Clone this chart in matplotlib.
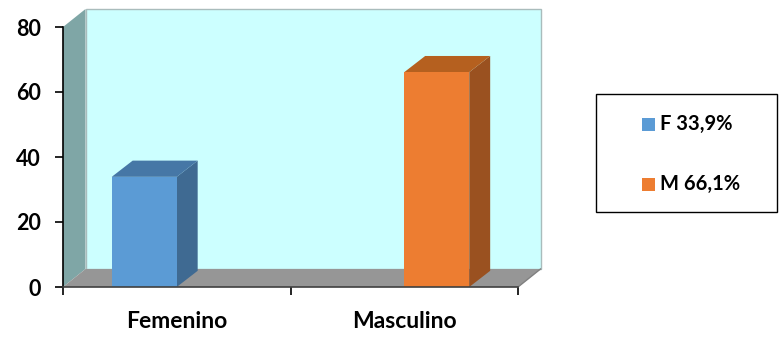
import matplotlib
matplotlib.use("Agg")
import matplotlib.pyplot as plt
from matplotlib.patches import Polygon, Rectangle

# Data
categories = ["Femenino", "Masculino"]
series_names = ["F", "M"]
series_values = [33.9, 66.1]          # percentage per sex
legend_labels = ["F 33,9%", "M 66,1%"]
y_ticks = [0, 20, 40, 60, 80]

front_colors = ["#5b9bd5", "#ed7d31"]
top_colors = ["#4677a6", "#b5601f"]
side_colors = ["#3f6a92", "#9a5120"]

plt.rcParams["font.family"] = ["Lato", "DejaVu Sans"]
plt.rcParams["font.weight"] = "bold"

W, H = 779, 338
fig = plt.figure(figsize=(W / 100, H / 100), dpi=100)
ax = fig.add_axes([63 / W, (H - 287) / H, 455 / W, 260 / H])
ymax = 80
ax.set_xlim(0, len(categories))
ax.set_ylim(0, ymax)

# oblique depth in data units
px_x = len(categories) / 455
px_y = ymax / 260
ddx, ddy = 22.5 * px_x, 18 * px_y
xmax = len(categories)


def poly(pts, fc, ec="none", lw=0.0, z=1):
    ax.add_patch(Polygon(pts, closed=True, facecolor=fc, edgecolor=ec,
                         linewidth=lw, clip_on=False, zorder=z))


# walls and floor
poly([(ddx, ddy), (xmax + ddx, ddy), (xmax + ddx, ymax + ddy), (ddx, ymax + ddy)],
     "#ccffff", ec="#a9bcbc", lw=1.0, z=1)
poly([(0, 0), (ddx, ddy), (ddx, ymax + ddy), (0, ymax)], "#7fa6a6", z=2)
poly([(0, 0), (xmax, 0), (xmax + ddx, ddy), (ddx, ddy)], "#969696", z=2)
ax.plot([xmax, xmax + ddx], [0, ddy], color="#808080", lw=1.0, zorder=3, clip_on=False)

# bars: one slot per series inside each category
bw = 65 / 227.5
bdx, bdy = ddx * 0.93, ddy * 0.9
n = len(series_values)
for i, v in enumerate(series_values):
    x0 = i + 0.5 + (i - (n - 1) / 2) * bw - bw / 2
    x1 = x0 + bw
    poly([(x1, 0), (x1 + bdx, bdy), (x1 + bdx, v + bdy), (x1, v)], side_colors[i], z=4)
    poly([(x0, v), (x1, v), (x1 + bdx, v + bdy), (x0 + bdx, v + bdy)], top_colors[i], z=4)
    poly([(x0, 0), (x1, 0), (x1, v), (x0, v)], front_colors[i], z=5)

# axes lines and ticks
for s in ax.spines.values():
    s.set_visible(False)
ax.plot([0, 0], [0, ymax], color="black", lw=1.2, zorder=6, clip_on=False)
ax.plot([0, xmax], [0, 0], color="#404040", lw=1.2, zorder=6, clip_on=False)
ax.set_yticks(y_ticks)
ax.set_yticklabels([str(t) for t in y_ticks], fontsize=15.5, fontweight="bold")
ax.tick_params(axis="y", length=6, width=1.2, pad=10, color="black")
ax.set_xticks([0, 1, 2])
ax.set_xticklabels([])
ax.tick_params(axis="x", length=6, width=1.2, color="black")
for i, c in enumerate(categories):
    ax.text(i + 0.5, -35 * px_y, c, ha="center", va="center", fontsize=16.5,
            fontweight="bold", clip_on=False)

# legend box
fig.patches.append(Rectangle((596 / W, (H - 212) / H), 181 / W, 118 / H,
                             transform=fig.transFigure, facecolor="white",
                             edgecolor="black", linewidth=1.0))
for k, lab in enumerate(legend_labels):
    yc = 124 + k * 60
    fig.patches.append(Rectangle((642 / W, (H - yc - 6.5) / H), 13 / W, 13 / H,
                                 transform=fig.transFigure,
                                 facecolor=front_colors[k], edgecolor="none"))
    fig.text(660 / W, (H - yc) / H, lab, ha="left", va="center",
             fontsize=14.5, fontweight="bold")

fig.savefig("out.png", dpi=100)
